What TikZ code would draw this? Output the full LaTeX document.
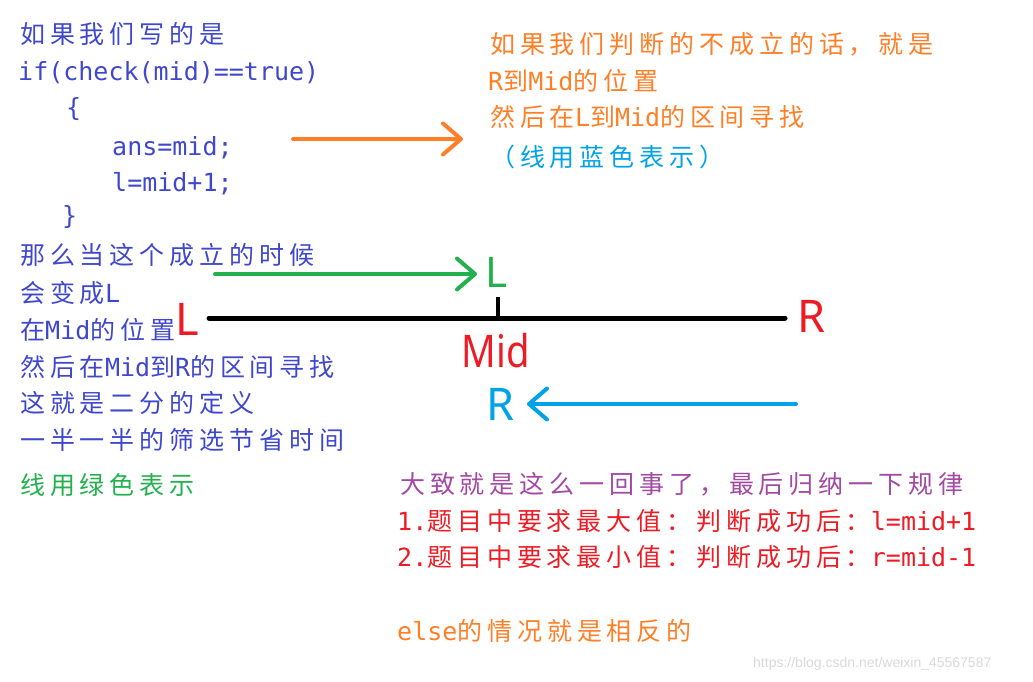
\documentclass[tikz,border=0pt]{standalone}
\usepackage{fontspec}
\usetikzlibrary{arrows.meta}
\newfontfamily\cjk[LetterSpace=19.6]{Noto Sans CJK SC}
\newfontfamily\mono{DejaVu Sans Mono}
\newfontfamily\bigsans{Noto Sans}
\newfontfamily\wmfont{Liberation Sans}
\newcommand\M[1]{{\mono #1}}
\definecolor{blueT}{HTML}{3F48CC}
\definecolor{greenC}{HTML}{22B14C}
\definecolor{orangeC}{HTML}{FF7F27}
\definecolor{cyanC}{HTML}{00A2E8}
\definecolor{redC}{HTML}{ED1C24}
\definecolor{purpleC}{HTML}{A349A4}
\tikzset{
  txt/.style={anchor=base west, inner sep=0pt, font=\fontsize{25}{28}\selectfont\cjk},
  code/.style={anchor=base west, inner sep=0pt, font=\fontsize{25}{28}\selectfont\mono, text=blueT},
  big/.style={inner sep=0pt, font=\fontsize{45}{50}\selectfont\bigsans},
  arr/.style={line width=4pt, line cap=round, -{Straight Barb[length=18pt,width=31pt,round]}},
}
\begin{document}
\begin{tikzpicture}[x=1pt,y=-1pt]
\useasboundingbox (0,0) rectangle (1033,682);
% left column
\node[txt, text=blueT] (t1) at (20,44) {如果我们写的是};
\node[code] (t2) at (18,81) {if(check(mid)==true)};
\node[code] (t3) at (66,117) {\{};
\node[code] (t4) at (112,156) {ans=mid;};
\node[code] (t5) at (112,191) {l=mid+1;};
\node[code] (t6) at (62,224) {\}};
\node[txt, text=blueT] (t7) at (20,264) {那么当这个成立的时候};
\node[txt, text=blueT] (t8) at (20,302) {会变成\M{L}};
\node[txt, text=blueT] (t9) at (20,339) {在\M{Mid}的位置};
\node[txt, text=blueT] (t10) at (20,376) {然后在\M{Mid}到\M{R}的区间寻找};
\node[txt, text=blueT] (t11) at (20,412) {这就是二分的定义};
\node[txt, text=blueT] (t12) at (20,449) {一半一半的筛选节省时间};
\node[txt, text=greenC] (t13) at (20,494) {线用绿色表示};
% right top
\node[txt, text=orangeC] (o1) at (490,54) {如果我们判断的不成立的话，就是};
\node[txt, text=orangeC] (o2) at (488,91) {\M{R}到\M{Mid}的位置};
\node[txt, text=orangeC] (o3) at (490,127) {然后在\M{L}到\M{Mid}的区间寻找};
\node[txt, text=cyanC] (o4) at (490,166) {（线用蓝色表示）};
% bottom right
\node[txt, text=purpleC] (b1) at (400,493) {大致就是这么一回事了，最后归纳一下规律};
\node[txt, text=redC] (b2) at (397,530) {\M{1.}题目中要求最大值：判断成功后：\M{l=mid+1}};
\node[txt, text=redC] (b3) at (397,566) {\M{2.}题目中要求最小值：判断成功后：\M{r=mid-1}};
\node[txt, text=orangeC] (b4) at (397,640) {\M{else}的情况就是相反的};
% number line
\node[big, text=redC] (Lred) at (187,319) {L};
\node[big, text=redC] (Rred) at (811,316) {R};
\node[big, text=redC] (Mid) at (496,351) {\scalebox{0.85}[1]{Mid}};
\node[big, text=greenC, font=\fontsize{42}{46}\selectfont\bigsans] (Lgreen) at (496,273) {L};
\node[big, text=cyanC] (Rcyan) at (500,404) {R};
\coordinate (lineL) at (209,318);
\coordinate (lineR) at (785,318);
\coordinate (tick) at (498,297);
\coordinate (tickB) at (498,318);
\draw[line width=5pt, line cap=round] (lineL) -- (lineR);
\draw[line width=4pt] (tick) -- (tickB);
% arrows
\coordinate (oS) at (293,139);
\coordinate (oE) at (463,139);
\draw[arr, orangeC] (oS) -- (oE);
\coordinate (gS) at (215,274);
\coordinate (gE) at (477,274);
\draw[arr, greenC] (gS) -- (gE);
\coordinate (cS) at (796,404);
\coordinate (cE) at (527,404);
\draw[arr, cyanC] (cS) -- (cE);
% watermark
\node[anchor=base west, inner sep=0pt, text=gray!30, font=\fontsize{14}{16}\selectfont\wmfont] (wm) at (753,667) {https://blog.csdn.net/weixin\_45567587};
\end{tikzpicture}
\end{document}
